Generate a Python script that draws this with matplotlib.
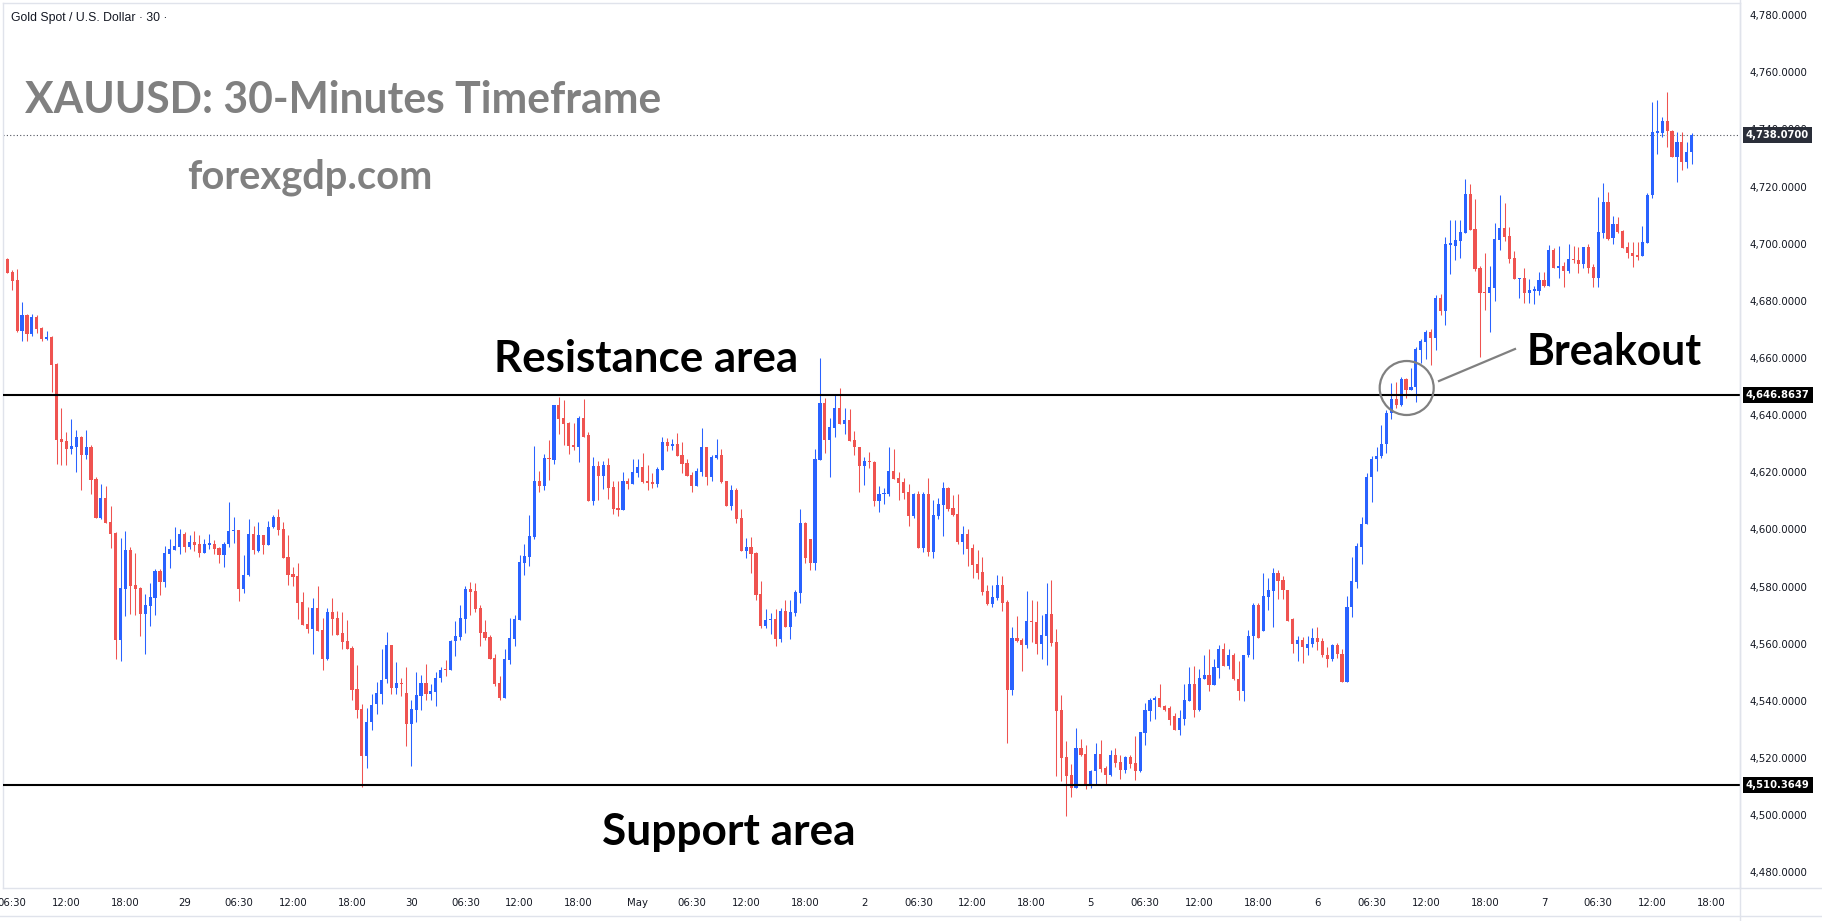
import matplotlib
matplotlib.use("Agg")
import matplotlib.pyplot as plt
import numpy as np
from matplotlib.patches import Ellipse
from matplotlib.lines import Line2D
from matplotlib.transforms import blended_transform_factory

# 30-minute candles (index 0 = Apr 28 06:00)
open_px = [
    4694.7, 4690.1, 4687.3, 4669.6, 4675.0, 4668.5, 4674.3, 4670.5, 4666.6, 4667.4,
    4658.0, 4631.6, 4630.9, 4628.1, 4629.0, 4632.5, 4626.0, 4628.8, 4617.6, 4604.1,
    4611.1, 4602.6, 4598.7, 4561.4, 4579.3, 4592.8, 4580.5, 4579.5, 4570.5, 4573.3,
    4576.1, 4585.4, 4581.7, 4591.5, 4592.9, 4593.9, 4598.4, 4593.7, 4595.6, 4594.9,
    4591.9, 4594.7, 4594.9, 4593.6, 4591.2, 4595.0, 4599.5, 4599.9, 4579.1, 4584.0,
    4598.4, 4592.6, 4598.0, 4594.7, 4601.0, 4604.5, 4600.3, 4590.5, 4584.4, 4583.7,
    4574.6, 4566.9, 4565.3, 4572.5, 4564.8, 4554.8, 4571.1, 4569.0, 4563.7, 4560.9,
    4558.6, 4544.1, 4537.1, 4520.5, 4532.4, 4538.7, 4542.5, 4547.5, 4559.5, 4544.3,
    4546.2, 4542.7, 4531.7, 4536.9, 4541.8, 4546.2, 4542.2, 4543.2, 4547.8, 4550.9,
    4550.6, 4560.9, 4562.5, 4568.8, 4579.1, 4578.4, 4572.5, 4564.1, 4562.5, 4555.1,
    4546.2, 4540.8, 4554.4, 4561.8, 4568.4, 4588.4, 4590.5, 4597.3, 4616.9, 4615.2,
    4625.0, 4624.3, 4643.5, 4639.0, 4637.2, 4629.5, 4628.8, 4638.9, 4633.0, 4610.0,
    4622.2, 4618.7, 4622.5, 4614.8, 4607.5, 4606.8, 4616.9, 4615.9, 4619.7, 4621.8,
    4616.9, 4616.6, 4615.9, 4620.8, 4630.6, 4629.2, 4629.9, 4626.0, 4623.2, 4619.0,
    4615.2, 4620.1, 4628.8, 4618.3, 4625.0, 4626.0, 4616.9, 4608.2, 4613.8, 4604.0,
    4592.4, 4593.8, 4591.7, 4577.4, 4566.2, 4568.3, 4568.6, 4561.6, 4571.4, 4565.8,
    4570.7, 4577.7, 4602.2, 4596.6, 4588.2, 4624.3, 4644.3, 4631.3, 4635.5, 4642.5,
    4636.9, 4638.3, 4631.3, 4628.8, 4622.2, 4624.0, 4623.7, 4610.1, 4612.4, 4612.4,
    4620.5, 4618.0, 4616.6, 4613.1, 4604.8, 4612.4, 4593.6, 4612.4, 4592.2, 4604.7,
    4608.5, 4614.5, 4607.5, 4605.4, 4595.6, 4598.4, 4593.5, 4587.9, 4585.1, 4578.4,
    4573.9, 4576.1, 4580.5, 4574.6, 4543.8, 4562.0, 4561.3, 4559.5, 4567.9, 4567.6,
    4559.9, 4562.7, 4570.4, 4560.6, 4536.8, 4520.3, 4514.0, 4509.5, 4523.5, 4521.4,
    4510.5, 4515.4, 4521.4, 4516.5, 4514.0, 4521.0, 4518.6, 4515.8, 4520.3, 4518.2,
    4515.4, 4528.8, 4536.4, 4540.3, 4540.8, 4538.2, 4537.3, 4534.6, 4529.7, 4533.5,
    4539.9, 4545.7, 4536.9, 4547.7, 4549.1, 4545.4, 4551.4, 4558.3, 4552.2, 4556.1,
    4547.7, 4543.4, 4555.9, 4562.6, 4573.7, 4564.4, 4576.4, 4578.6, 4584.6, 4582.3,
    4578.9, 4568.5, 4559.9, 4561.3, 4558.5, 4559.9, 4561.9, 4560.9, 4556.1, 4554.5,
    4559.5, 4556.5, 4546.4, 4572.8, 4581.6, 4593.9, 4601.9, 4618.5, 4624.7, 4625.6,
    4629.8, 4640.8, 4645.6, 4643.5, 4652.7, 4648.7, 4650.0, 4662.9, 4665.6, 4669.0,
    4667.0, 4680.9, 4676.5, 4699.7, 4699.3, 4701.0, 4703.9, 4717.4, 4705.1, 4691.6,
    4683.2, 4682.6, 4684.6, 4701.3, 4705.5, 4702.8, 4695.1, 4687.5, 4687.9, 4682.6,
    4683.5, 4683.6, 4687.3, 4685.3, 4697.8, 4691.6, 4692.2, 4690.6, 4694.6, 4694.3,
    4693.0, 4699.0, 4691.8, 4688.1, 4703.7, 4714.6, 4702.1, 4706.9, 4704.4, 4699.0,
    4696.9, 4696.0, 4695.7, 4700.4, 4716.9, 4738.9, 4738.9, 4742.8, 4739.6, 4730.5,
    4735.5, 4728.7, 4732.0,
]
high_px = [
    4694.9, 4690.8, 4691.1, 4679.6, 4675.4, 4675.4, 4675.0, 4670.8, 4669.4, 4667.7,
    4658.2, 4642.6, 4634.1, 4638.6, 4634.8, 4632.7, 4634.8, 4629.5, 4618.3, 4615.9,
    4615.2, 4608.2, 4599.0, 4597.0, 4599.4, 4593.8, 4591.9, 4579.8, 4577.4, 4581.2,
    4586.0, 4586.1, 4594.3, 4596.8, 4600.9, 4600.3, 4599.1, 4598.2, 4599.6, 4598.2,
    4596.8, 4598.5, 4596.4, 4593.9, 4595.7, 4609.7, 4604.5, 4599.9, 4591.2, 4603.7,
    4601.3, 4602.7, 4598.2, 4603.1, 4605.2, 4607.3, 4602.7, 4598.2, 4587.0, 4588.2,
    4578.1, 4572.8, 4576.0, 4580.2, 4569.0, 4572.5, 4576.0, 4571.4, 4571.1, 4568.3,
    4559.3, 4552.5, 4539.0, 4537.3, 4542.2, 4546.4, 4558.3, 4564.1, 4559.5, 4553.6,
    4547.8, 4551.9, 4540.3, 4549.9, 4549.1, 4553.0, 4546.0, 4549.9, 4551.9, 4554.4,
    4561.4, 4568.1, 4573.7, 4580.3, 4581.7, 4581.2, 4573.5, 4568.4, 4563.0, 4556.5,
    4548.8, 4558.3, 4569.1, 4570.2, 4591.0, 4594.9, 4605.0, 4629.3, 4620.4, 4626.4,
    4631.3, 4643.5, 4646.5, 4645.3, 4637.6, 4637.2, 4639.7, 4645.6, 4634.1, 4625.3,
    4624.0, 4624.0, 4625.0, 4616.9, 4616.9, 4620.1, 4618.0, 4624.6, 4624.6, 4626.7,
    4622.5, 4619.7, 4621.8, 4632.3, 4632.0, 4631.6, 4633.7, 4630.6, 4624.6, 4620.1,
    4621.5, 4635.5, 4628.8, 4626.0, 4631.6, 4628.2, 4616.9, 4615.5, 4614.5, 4607.1,
    4597.0, 4597.3, 4592.1, 4581.9, 4572.1, 4570.7, 4572.1, 4572.5, 4575.3, 4575.3,
    4578.8, 4607.1, 4602.6, 4596.6, 4628.2, 4660.0, 4646.0, 4639.0, 4647.4, 4649.5,
    4642.5, 4642.2, 4634.4, 4628.8, 4625.3, 4627.1, 4624.1, 4615.2, 4614.5, 4629.0,
    4628.0, 4620.1, 4618.0, 4615.9, 4612.9, 4613.4, 4613.1, 4618.0, 4610.3, 4611.0,
    4616.6, 4614.8, 4612.0, 4612.4, 4601.2, 4600.1, 4594.9, 4592.8, 4590.3, 4580.5,
    4580.5, 4584.0, 4583.7, 4575.3, 4565.8, 4569.7, 4562.0, 4578.4, 4575.3, 4575.0,
    4570.0, 4581.2, 4582.3, 4565.1, 4542.0, 4525.9, 4517.9, 4530.5, 4526.6, 4524.5,
    4515.8, 4525.2, 4526.3, 4517.2, 4522.8, 4523.5, 4521.0, 4520.7, 4521.0, 4527.7,
    4529.1, 4539.2, 4541.0, 4541.7, 4545.9, 4538.5, 4538.2, 4535.8, 4536.9, 4545.7,
    4551.8, 4552.2, 4551.0, 4555.9, 4558.3, 4554.8, 4559.7, 4560.2, 4558.3, 4556.9,
    4554.1, 4556.1, 4564.9, 4574.4, 4574.4, 4584.6, 4582.9, 4586.5, 4585.9, 4583.6,
    4578.9, 4569.0, 4562.6, 4562.4, 4562.6, 4565.6, 4565.7, 4562.0, 4559.0, 4559.9,
    4560.2, 4558.3, 4576.6, 4590.4, 4595.4, 4604.2, 4619.8, 4625.6, 4628.8, 4636.5,
    4641.9, 4651.4, 4651.7, 4653.4, 4653.0, 4656.5, 4663.9, 4666.6, 4669.7, 4670.1,
    4681.9, 4682.3, 4702.2, 4708.3, 4708.3, 4708.3, 4722.8, 4720.9, 4715.5, 4692.2,
    4696.6, 4692.3, 4707.1, 4717.0, 4714.1, 4706.0, 4697.4, 4687.9, 4691.4, 4687.6,
    4685.2, 4690.1, 4690.1, 4699.5, 4698.4, 4699.3, 4693.7, 4699.9, 4699.3, 4699.0,
    4699.0, 4699.8, 4692.8, 4716.5, 4721.1, 4718.2, 4709.7, 4709.5, 4704.8, 4700.7,
    4700.7, 4700.5, 4706.3, 4717.6, 4749.5, 4750.3, 4744.5, 4753.1, 4739.8, 4739.0,
    4739.0, 4735.7, 4738.6,
]
low_px = [
    4689.9, 4683.8, 4669.0, 4666.1, 4666.1, 4667.8, 4668.6, 4666.1, 4666.3, 4648.2,
    4622.9, 4622.5, 4622.5, 4626.5, 4620.1, 4613.8, 4624.6, 4612.4, 4604.1, 4603.6,
    4602.4, 4593.6, 4554.8, 4554.1, 4569.8, 4570.5, 4570.2, 4562.8, 4556.5, 4566.3,
    4570.2, 4577.2, 4579.9, 4586.6, 4592.9, 4591.5, 4592.2, 4593.0, 4592.6, 4590.5,
    4591.9, 4593.3, 4591.5, 4588.4, 4587.0, 4593.9, 4595.4, 4575.1, 4577.9, 4583.8,
    4591.5, 4592.2, 4591.5, 4594.7, 4600.6, 4598.2, 4590.1, 4580.7, 4580.3, 4568.6,
    4566.7, 4563.9, 4556.5, 4564.6, 4550.9, 4554.4, 4563.2, 4563.2, 4558.3, 4558.3,
    4540.4, 4533.8, 4509.7, 4516.6, 4529.9, 4535.5, 4539.0, 4546.1, 4542.5, 4542.2,
    4541.8, 4524.0, 4517.3, 4532.4, 4536.6, 4540.4, 4540.4, 4538.3, 4546.4, 4548.8,
    4550.6, 4555.8, 4561.4, 4563.9, 4570.2, 4571.2, 4559.3, 4561.4, 4554.8, 4545.0,
    4540.1, 4540.8, 4553.0, 4559.3, 4568.4, 4584.2, 4587.3, 4596.8, 4613.2, 4613.8,
    4617.3, 4622.9, 4633.4, 4629.5, 4626.4, 4627.8, 4623.6, 4632.5, 4610.0, 4608.5,
    4610.3, 4614.1, 4610.6, 4605.4, 4604.7, 4606.8, 4614.1, 4615.9, 4618.3, 4616.2,
    4613.8, 4614.5, 4614.8, 4620.8, 4627.4, 4627.8, 4625.7, 4619.7, 4618.7, 4613.1,
    4615.2, 4618.7, 4615.5, 4616.9, 4624.6, 4616.2, 4608.2, 4606.8, 4602.2, 4592.4,
    4590.0, 4584.7, 4575.3, 4565.5, 4565.5, 4563.4, 4559.2, 4560.6, 4565.8, 4561.6,
    4569.7, 4574.2, 4588.2, 4585.8, 4585.8, 4624.3, 4626.7, 4618.3, 4632.3, 4636.9,
    4633.4, 4631.0, 4626.0, 4613.1, 4615.5, 4621.5, 4608.3, 4606.2, 4608.9, 4611.8,
    4617.6, 4610.4, 4610.8, 4601.3, 4604.1, 4593.6, 4592.2, 4590.8, 4590.1, 4603.6,
    4597.7, 4606.5, 4604.7, 4594.9, 4591.4, 4587.2, 4583.0, 4582.6, 4577.0, 4573.5,
    4572.8, 4575.3, 4571.4, 4525.2, 4542.0, 4560.6, 4550.4, 4558.5, 4560.6, 4556.4,
    4554.6, 4552.5, 4559.2, 4513.7, 4511.9, 4499.7, 4506.3, 4509.5, 4520.7, 4509.1,
    4509.5, 4510.5, 4515.1, 4510.9, 4513.7, 4516.8, 4512.6, 4514.7, 4516.5, 4512.3,
    4515.1, 4524.5, 4532.9, 4533.6, 4537.8, 4536.4, 4531.5, 4529.7, 4528.1, 4531.5,
    4539.9, 4534.2, 4536.5, 4547.7, 4543.4, 4545.4, 4548.1, 4552.2, 4551.1, 4547.1,
    4540.3, 4540.0, 4555.5, 4554.5, 4562.0, 4564.4, 4571.7, 4565.7, 4575.5, 4575.5,
    4568.1, 4556.8, 4553.8, 4553.4, 4556.1, 4558.8, 4557.9, 4555.2, 4551.8, 4554.1,
    4554.9, 4546.4, 4546.4, 4569.4, 4579.6, 4588.0, 4601.9, 4609.7, 4620.5, 4625.0,
    4626.7, 4638.5, 4642.6, 4643.3, 4646.0, 4648.7, 4644.6, 4658.2, 4659.5, 4657.5,
    4662.9, 4675.1, 4671.7, 4689.3, 4694.3, 4695.1, 4703.9, 4704.8, 4690.6, 4660.5,
    4676.8, 4669.0, 4679.9, 4697.8, 4701.0, 4693.4, 4687.5, 4680.9, 4679.4, 4679.4,
    4678.8, 4682.1, 4684.7, 4685.3, 4691.4, 4687.9, 4685.0, 4689.9, 4693.1, 4689.9,
    4691.4, 4689.6, 4685.0, 4685.0, 4702.1, 4701.3, 4699.8, 4703.6, 4698.6, 4694.9,
    4692.0, 4694.3, 4695.7, 4700.4, 4715.9, 4731.4, 4737.2, 4734.0, 4730.5, 4721.7,
    4725.8, 4726.6, 4727.9,
]
close_px = [
    4689.9, 4687.1, 4669.6, 4675.0, 4668.5, 4674.2, 4670.3, 4666.6, 4667.3, 4657.5,
    4631.3, 4630.7, 4628.1, 4629.2, 4632.3, 4626.0, 4628.8, 4617.3, 4604.1, 4611.1,
    4602.4, 4598.5, 4561.4, 4579.5, 4592.8, 4580.3, 4579.1, 4570.5, 4573.5, 4576.3,
    4585.6, 4581.7, 4591.9, 4593.1, 4594.3, 4598.4, 4593.7, 4595.6, 4594.7, 4591.9,
    4595.0, 4595.0, 4593.3, 4591.2, 4595.0, 4599.4, 4599.9, 4579.1, 4584.0, 4598.4,
    4592.9, 4598.0, 4594.7, 4601.0, 4604.5, 4599.9, 4590.1, 4584.2, 4583.5, 4574.4,
    4566.7, 4565.3, 4572.5, 4564.6, 4554.8, 4571.1, 4568.8, 4563.2, 4560.7, 4558.3,
    4543.9, 4536.9, 4520.5, 4532.6, 4538.5, 4542.7, 4547.1, 4559.5, 4544.3, 4546.2,
    4545.7, 4531.7, 4537.1, 4542.0, 4546.2, 4542.2, 4543.4, 4548.0, 4550.8, 4550.6,
    4561.1, 4562.8, 4569.0, 4579.1, 4578.1, 4572.3, 4563.9, 4562.1, 4554.8, 4546.0,
    4540.8, 4554.8, 4562.1, 4568.8, 4588.7, 4590.7, 4597.7, 4616.9, 4615.2, 4625.0,
    4624.6, 4643.5, 4638.7, 4636.9, 4629.2, 4628.8, 4639.0, 4632.5, 4610.0, 4622.2,
    4618.7, 4622.5, 4614.5, 4607.1, 4606.8, 4616.9, 4615.9, 4620.1, 4621.8, 4616.6,
    4616.2, 4615.9, 4621.1, 4630.6, 4629.2, 4629.9, 4625.7, 4622.9, 4618.7, 4615.2,
    4620.4, 4628.8, 4618.3, 4625.3, 4626.0, 4616.6, 4608.2, 4613.8, 4603.6, 4592.4,
    4593.8, 4591.4, 4577.0, 4566.2, 4568.3, 4568.6, 4561.6, 4571.4, 4565.8, 4571.1,
    4578.1, 4602.2, 4590.0, 4588.2, 4624.6, 4644.3, 4631.3, 4635.8, 4642.5, 4636.9,
    4638.3, 4631.0, 4628.8, 4622.2, 4624.0, 4623.6, 4610.1, 4612.4, 4612.7, 4620.5,
    4617.6, 4616.4, 4612.9, 4604.8, 4612.4, 4593.6, 4612.4, 4592.2, 4605.0, 4608.9,
    4614.5, 4607.1, 4605.0, 4595.6, 4598.4, 4593.1, 4587.6, 4584.7, 4578.1, 4573.9,
    4576.3, 4580.5, 4574.2, 4543.8, 4562.0, 4561.0, 4559.5, 4567.9, 4567.6, 4559.9,
    4563.0, 4570.4, 4560.2, 4536.4, 4520.0, 4513.7, 4509.5, 4523.5, 4521.0, 4510.5,
    4515.4, 4521.4, 4516.1, 4514.0, 4521.0, 4518.2, 4515.8, 4520.3, 4517.9, 4515.4,
    4529.1, 4536.8, 4540.3, 4540.8, 4537.8, 4536.8, 4533.3, 4529.7, 4533.8, 4540.1,
    4545.7, 4536.9, 4548.1, 4549.1, 4545.4, 4551.7, 4558.3, 4552.2, 4556.1, 4547.5,
    4543.4, 4556.1, 4562.6, 4573.7, 4562.0, 4576.7, 4578.9, 4584.6, 4582.1, 4578.9,
    4568.1, 4559.9, 4561.3, 4558.8, 4559.9, 4561.9, 4560.6, 4555.9, 4554.8, 4559.5,
    4556.3, 4546.4, 4572.8, 4581.9, 4594.1, 4601.9, 4618.5, 4624.7, 4625.6, 4629.8,
    4640.8, 4645.6, 4643.5, 4652.7, 4648.7, 4650.0, 4663.2, 4665.9, 4669.0, 4667.0,
    4680.9, 4676.5, 4699.8, 4700.0, 4701.3, 4704.2, 4717.4, 4704.8, 4691.0, 4682.9,
    4682.6, 4685.0, 4701.6, 4705.5, 4702.5, 4694.6, 4687.5, 4687.9, 4682.6, 4683.8,
    4684.0, 4687.3, 4685.3, 4697.8, 4691.6, 4692.2, 4690.6, 4694.6, 4694.3, 4693.0,
    4699.0, 4691.6, 4688.1, 4704.1, 4714.6, 4701.8, 4706.9, 4704.0, 4698.6, 4696.6,
    4695.8, 4695.5, 4700.5, 4717.0, 4739.0, 4739.2, 4742.8, 4739.6, 4730.5, 4735.5,
    4728.7, 4732.1, 4738.07,
]

resistance = 4646.8637
support = 4510.3649
last_price = 4738.07
price_ticks = list(range(4480, 4781, 20))

# session days (candle index of the 01:00 bar) and intraday tick offsets
day_starts = [-10, 36, 82, 128, 174, 220, 266, 312]
day_names = ["28", "29", "30", "May", "2", "5", "6", "7"]
intraday = [(11, "06:30"), (22, "12:00"), (34, "18:00")]

W, H = 1822, 921
fig = plt.figure(figsize=(W / 100, H / 100), dpi=100, facecolor="white")
ax = fig.add_axes([3 / W, 1 - 888 / H, (1740 - 3) / W, (888 - 3) / H])

o = np.array(open_px)
h = np.array(high_px)
l = np.array(low_px)
c = np.array(close_px)
x = np.arange(len(o))
colors = np.where(c >= o, "#2962ff", "#ef5350")

ax.vlines(x, l, h, colors=colors, lw=0.75, zorder=2)
ax.bar(x, np.maximum(np.abs(c - o), 0.4), bottom=np.minimum(o, c),
       width=0.64, color=colors, linewidth=0, zorder=3)

ax.axhline(resistance, color="black", lw=1.5, zorder=4)
ax.axhline(support, color="black", lw=1.5, zorder=4)
ax.axhline(last_price, color="#50535e", lw=0.8, ls=(0, (1, 2)), zorder=1)

ax.set_ylim(4474.47, 4784.24)

# axes / ticks
ax.yaxis.tick_right()
ax.set_yticks(price_ticks)
ax.set_yticklabels([f"{v:,.4f}" for v in price_ticks])
ax.tick_params(axis="y", length=0, pad=6.5, labelsize=7.4, labelcolor="#131722")

tick_pos, tick_lbl = [], []
for d, name in zip(day_starts, day_names):
    tick_pos.append(d)
    tick_lbl.append(name)
    for off, lab in intraday:
        tick_pos.append(d + off)
        tick_lbl.append(lab)
ax.set_xticks(tick_pos)
ax.set_xticklabels(tick_lbl)
ax.tick_params(axis="x", length=0, pad=7, labelsize=7.3, labelcolor="#131722")
ax.set_xlim(-0.87, 351.8)

for s in ax.spines.values():
    s.set_color("#e0e3eb")
    s.set_linewidth(1)

fig.add_artist(Line2D([1740 / W, 1740 / W], [0, 1], transform=fig.transFigure,
                      color="#e0e3eb", lw=1))
fig.add_artist(Line2D([1740 / W, 1], [1 - 888 / H, 1 - 888 / H], transform=fig.transFigure,
                      color="#e0e3eb", lw=1))
fig.add_artist(Line2D([0, 1], [1 - 916 / H, 1 - 916 / H], transform=fig.transFigure,
                      color="#e0e3eb", lw=1))

# price tags on the axis (the last-price tag covers the 4,740 label, as in the picture)
trans = blended_transform_factory(fig.transFigure, ax.transData)
for val, fc in [(last_price, "#2a2e39"), (resistance, "black"), (support, "black")]:
    ax.text(1746 / W, val, f"{val:,.4f}", transform=trans, ha="left", va="center",
            fontsize=7.2, fontweight="bold", color="white",
            bbox=dict(boxstyle="square,pad=0.3", fc=fc, ec="none"),
            clip_on=False, zorder=10)

# text annotations, sized to match the picture's widths
renderer = fig.canvas.get_renderer()


def place(s, x_px, y_px, width_px, color, weight="bold", family="Lato", va="baseline"):
    t = fig.text(x_px / W, 1 - y_px / H, s, fontsize=20, color=color,
                 fontweight=weight, family=family, ha="left", va=va)
    w = t.get_window_extent(renderer=renderer).width
    t.set_fontsize(20 * width_px / w)
    return t


place("Gold Spot / U.S. Dollar \u00b7 30 \u00b7", 11, 18, 155, "#131722",
      weight="normal", family="Liberation Sans", va="center")
place("XAUUSD: 30-Minutes Timeframe", 24.6, 113, 638, "#808080")
place("forexgdp.com", 187.5, 188, 245.5, "#808080")
place("Resistance area", 494, 372, 304, "black")
place("Support area", 602, 845, 253, "black")
place("Breakout", 1527, 365, 175, "black")

# breakout marker
fig.add_artist(Ellipse((1406.7 / W, 1 - 388 / H), width=54 / W, height=54 / H,
                       transform=fig.transFigure, fill=False, ec="#808080", lw=1.6))
fig.add_artist(Line2D([1439 / W, 1515 / W], [1 - 381 / H, 1 - 349 / H],
                      transform=fig.transFigure, color="#808080", lw=1.6))

fig.savefig("out.png", dpi=100, facecolor="white")
